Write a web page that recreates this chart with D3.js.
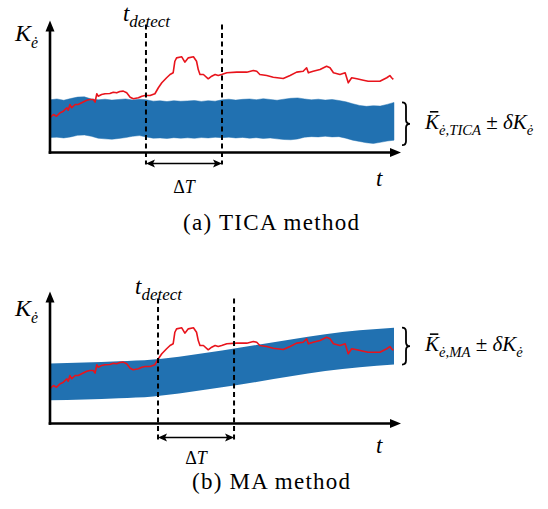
<!DOCTYPE html>
<html>
<head>
<meta charset="utf-8">
<script src="https://cdn.jsdelivr.net/npm/d3@7"></script>
<style>
  html, body { margin: 0; padding: 0; background: #fff; }
  svg { display: block; }
</style>
</head>
<body>
<svg id="viz" width="548" height="509"></svg>
<script>
/** ---------- data ---------- */
// measured signal K_e (same trace in both panels), time in % of window
const signalT = [0,1.0,1.9,2.9,3.9,4.9,5.3,5.8,6.3,7.3,
  8.2,9.2,10.7,11.6,12.6,13.1,13.6,14.0,15.0,16.0,
  17.4,18.4,19.4,20.3,21.3,22.3,23.3,24.2,25.7,26.7,
  27.6,29.1,30.5,31.5,32.5,33.9,34.9,35.8,36.3,36.8,
  38.3,39.2,40.2,41.7,42.6,43.1,43.6,44.6,46.0,47.0,
  48.0,48.9,49.9,51.4,54.3,57.2,59.1,60.1,61.0,63.0,
  64.9,67.8,69.8,71.7,73.6,74.6,75.1,76.5,78.5,80.4,
  81.4,82.4,84.3,85.8,86.7,87.7,89.2,91.1,92.5,95.9,
  97.9,98.8,99.3,99.8];
const signalK = [2.67,2.92,2.79,3.05,3.18,3.44,3.25,3.69,3.44,3.69,
  3.69,3.82,4.02,4.08,4.08,3.87,4.52,4.33,4.46,4.52,
  4.54,4.64,4.59,4.69,4.72,4.59,4.25,4.13,4.21,4.33,
  4.38,4.38,4.52,4.98,5.36,5.75,6.0,6.13,7.02,7.28,
  7.36,6.95,7.28,7.36,7.02,6.38,6.0,6.0,5.67,5.87,
  6.0,5.92,6.0,6.13,6.18,6.18,6.31,6.25,6.0,5.92,
  5.79,5.69,5.92,6.18,6.25,6.52,6.13,6.25,6.38,6.64,
  6.52,6.13,6.0,6.13,5.36,5.75,5.67,5.56,5.48,5.48,
  5.75,5.92,5.75,5.62];

// TICA band (noisy), sampled every 2 time units
const ticaT = d3.range(0, 101, 2);
const ticaUpper = [4.05,4.12,4.02,4.15,4.26,4.28,4.12,4.05,4.10,4.03,
  4.08,4.12,4.04,4.10,4.06,3.95,3.98,3.92,3.99,3.94,
  3.97,4.00,3.93,3.99,3.95,4.05,4.10,4.03,4.09,4.12,
  4.06,4.14,4.08,4.02,4.10,4.17,4.20,4.12,4.05,4.10,
  4.03,4.08,4.00,3.90,3.75,3.62,3.55,3.60,3.57,3.70,3.85];
const ticaLower = [1.15,1.18,1.12,1.20,1.32,1.35,1.25,1.10,1.05,1.02,
  1.08,1.15,1.25,1.30,1.20,1.10,1.12,1.08,1.14,1.10,
  1.13,1.09,1.15,1.12,1.17,1.14,1.18,1.12,1.16,1.10,
  1.14,1.08,1.12,1.05,1.00,0.98,1.04,1.18,1.22,1.20,
  1.25,1.20,1.22,1.10,0.95,0.85,0.75,0.70,0.78,0.88,0.95];

// MA band: smooth mean +- constant delta
const maT = [0,10,20,30,40,50,60,70,80,90,100];
const maMean = [3.20,3.27,3.36,3.50,3.82,4.20,4.62,5.05,5.45,5.75,5.95];
const maDelta = 1.42;

// detection time and end of delay window for each panel
const detectA = [27.9, 50.0];
const detectB = [31.4, 53.5];

/** ---------- setup ---------- */
const svg = d3.select("#viz");
const serif = "'Liberation Serif', 'Times New Roman', serif";
const BLUE = "#2171b1";
const RED = "#e8141c";

const x = d3.scaleLinear().domain([0, 100]).range([50, 394]);
const xAxisEnd = 401;

function mathLabel(sel, px, py, size, parts, anchor = "start") {
  const t = sel.append("text")
    .attr("x", px).attr("y", py)
    .attr("font-family", serif)
    .attr("font-size", size)
    .attr("text-anchor", anchor);
  let shift = 0;
  for (const p of parts) {
    const target = p.sub ? size * 0.3 : 0;
    t.append("tspan")
      .attr("dy", target - shift)
      .attr("font-size", p.sub ? size * (p.subScale || 0.72) : size)
      .attr("font-style", p.it ? "italic" : "normal")
      .text(p.s);
    shift = target;
  }
  return t;
}

function bracePath(x0, y1, y2, w) {
  const ym = (y1 + y2) / 2, q = 4, xm = x0 + w / 2;
  return `M${x0},${y1} Q${xm},${y1} ${xm},${y1 + q} L${xm},${ym - q} Q${xm},${ym} ${x0 + w},${ym}` +
    ` Q${xm},${ym} ${xm},${ym + q} L${xm},${y2 - q} Q${xm},${y2} ${x0},${y2}`;
}

function drawPanel(opt) {
  const g = svg.append("g");
  const base = opt.base;
  const y = d3.scaleLinear().domain([0, 10]).range([base, base - 130]);

  // band
  g.append("path")
    .datum(opt.band)
    .attr("d", d3.area()
      .curve(opt.curve)
      .x(d => x(d.t))
      .y0(d => y(d.lo))
      .y1(d => y(d.hi)))
    .attr("fill", BLUE)
    .attr("stroke", BLUE)
    .attr("stroke-width", opt.fuzzy ? 0.8 : 0)
    .attr("stroke-opacity", 0.6);

  // measured signal
  const sig = signalT.map((t, i) => ({ t, k: signalK[i] }));
  g.append("path")
    .datum(sig)
    .attr("d", d3.line().x(d => x(d.t)).y(d => y(d.k)))
    .attr("fill", "none")
    .attr("stroke", RED)
    .attr("stroke-width", 1.6)
    .attr("stroke-linejoin", "round");

  // detection window
  const [t0, t1] = opt.detect;
  g.selectAll("line.dash")
    .data(opt.detect)
    .join("line")
    .attr("class", "dash")
    .attr("x1", d => x(d)).attr("x2", d => x(d))
    .attr("y1", base - opt.dashTop).attr("y2", base + opt.dashBottom)
    .attr("stroke", "#000")
    .attr("stroke-width", 2)
    .attr("stroke-dasharray", "5,3.5");

  const ay = base + opt.arrowOff;
  g.append("line")
    .attr("x1", x(t0) + 3).attr("x2", x(t1) - 3)
    .attr("y1", ay).attr("y2", ay)
    .attr("stroke", "#000").attr("stroke-width", 1.6);
  g.append("path")
    .attr("d", `M${x(t0)},${ay} l9,-4 l-2,4 l2,4 Z M${x(t1)},${ay} l-9,-4 l2,4 l-2,4 Z`)
    .attr("fill", "#000");

  // axes
  g.append("line")
    .attr("x1", x(0)).attr("x2", x(0))
    .attr("y1", base + 1.3).attr("y2", base - 122)
    .attr("stroke", "#000").attr("stroke-width", 2.6);
  g.append("line")
    .attr("x1", x(0) - 1.3).attr("x2", xAxisEnd - 8)
    .attr("y1", base).attr("y2", base)
    .attr("stroke", "#000").attr("stroke-width", 2.6);
  g.append("path")
    .attr("d", `M${x(0)},${base - 132} l-4.5,11 l9,0 Z M${xAxisEnd},${base} l-11,-4.5 l0,9 Z`)
    .attr("fill", "#000");

  // brace
  const last = opt.band[opt.band.length - 1];
  const by1 = y(last.hi) + opt.braceIn[0], by2 = y(last.lo) + opt.braceIn[1];
  g.append("path")
    .attr("d", bracePath(402, by1, by2, 8))
    .attr("fill", "none")
    .attr("stroke", "#000")
    .attr("stroke-width", 1.8);

  // labels
  mathLabel(g, 15, base - opt.kLabel, 24, [{ s: "K", it: true }, { s: "ė", it: true, sub: true, subScale: 0.66 }]);
  mathLabel(g, x(t0) - 23, base - opt.tdLabel, 23, [{ s: "t", it: true }, { s: "detect", it: true, sub: true, subScale: 0.74 }]);
  mathLabel(g, (x(t0) + x(t1)) / 2, base + 40, 18, [{ s: "Δ", it: false }, { s: "T", it: true }], "middle");
  mathLabel(g, 376, base + opt.tLabel, 23, [{ s: "t", it: true }]);

  const lab = mathLabel(g, 425, (by1 + by2) / 2 + 5, 21, [
    { s: "K", it: true },
    { s: "ė," + opt.method, it: true, sub: true, subScale: 0.7 },
    { s: " ± ", it: false },
    { s: "δK", it: true },
    { s: "ė", it: true, sub: true, subScale: 0.7 }
  ]);
  const box = lab.node().getExtentOfChar(0);
  g.append("line")
    .attr("x1", box.x + box.width * 0.35).attr("x2", box.x + box.width * 0.95)
    .attr("y1", box.y + 2).attr("y2", box.y + 2)
    .attr("stroke", "#000").attr("stroke-width", 1.6);

  // caption
  g.append("text")
    .attr("x", 271).attr("y", opt.capY)
    .attr("text-anchor", "middle")
    .attr("font-family", serif)
    .attr("font-size", 23)
    .attr("textLength", opt.capW)
    .attr("lengthAdjust", "spacing")
    .text(opt.caption);
}

drawPanel({
  base: 152.5,
  band: ticaT.map((t, i) => ({ t, hi: ticaUpper[i], lo: ticaLower[i] })),
  curve: d3.curveLinear,
  fuzzy: true,
  detect: detectA,
  dashTop: 128, dashBottom: 12,
  arrowOff: 11,
  braceIn: [0, 5],
  kLabel: 112, tdLabel: 132, tLabel: 33,
  method: "TICA",
  caption: "(a) TICA method",
  capY: 230, capW: 176
});

drawPanel({
  base: 423.5,
  band: maT.map((t, i) => ({ t, hi: maMean[i] + maDelta, lo: maMean[i] - maDelta })),
  curve: d3.curveMonotoneX,
  fuzzy: false,
  detect: detectB,
  dashTop: 125, dashBottom: 17,
  arrowOff: 14,
  braceIn: [0, 0],
  kLabel: 108, tdLabel: 130, tLabel: 29,
  method: "MA",
  caption: "(b) MA method",
  capY: 489, capW: 158
});
</script>
</body>
</html>
